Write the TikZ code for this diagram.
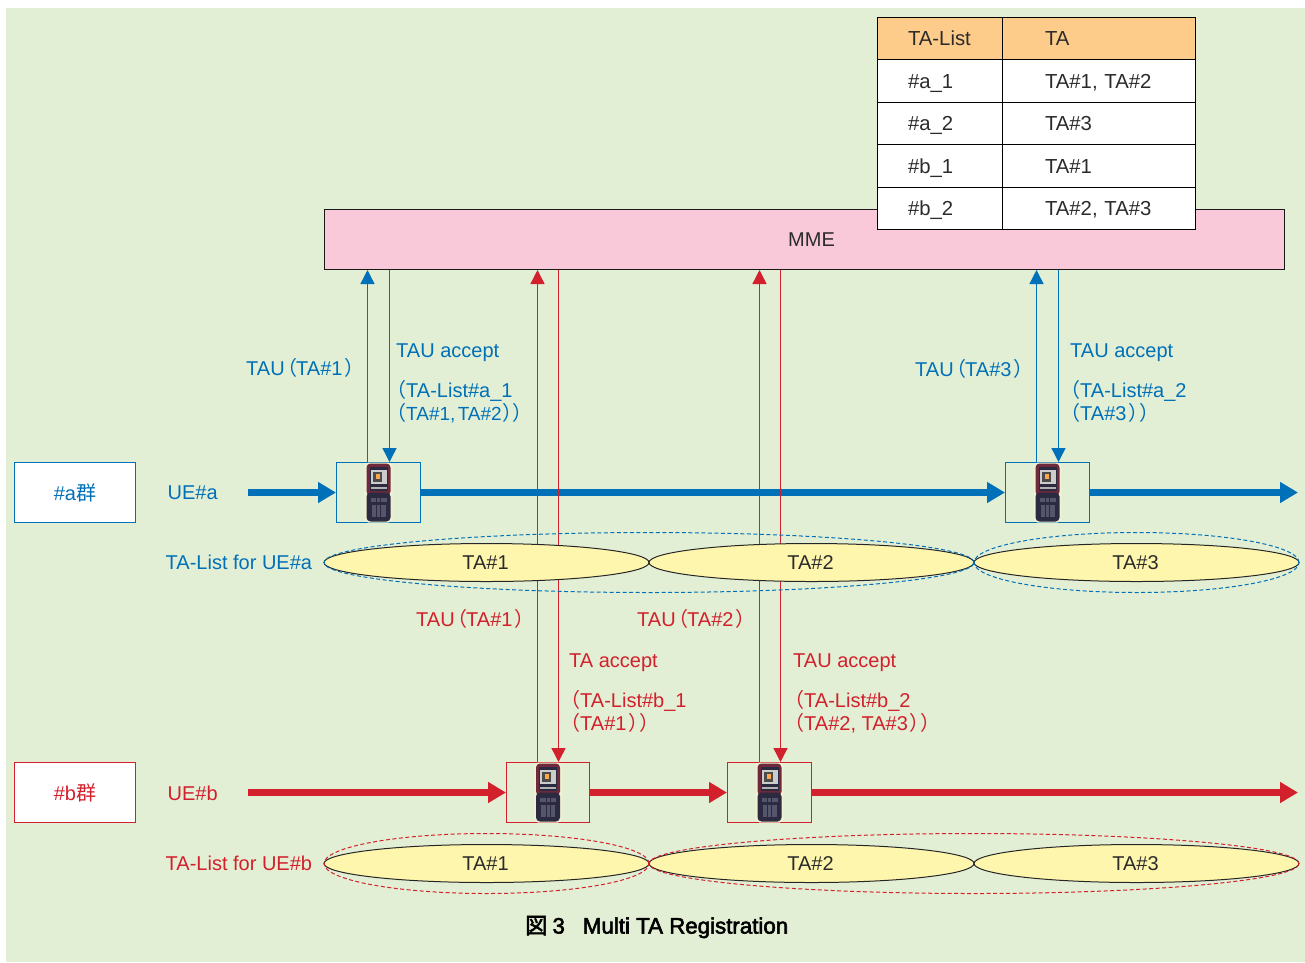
\documentclass[tikz,border=0pt]{standalone}
\usepackage{fontspec}
\setmainfont{Liberation Sans}
\newfontfamily\cjk{Noto Sans CJK JP}
\newfontfamily\capcjk[FakeBold=2.5]{Noto Sans CJK JP}
\newfontfamily\capfont[FakeBold=2.5]{Liberation Sans}
\usepackage{xcolor}
\usetikzlibrary{shapes.geometric, arrows.meta, positioning}
\definecolor{bggreen}{HTML}{E3EFD4}
\definecolor{mmepink}{HTML}{F9C9DA}
\definecolor{headorange}{HTML}{FDCB8A}
\definecolor{tayellow}{HTML}{FFF6AE}
\definecolor{ueblue}{HTML}{0070B9}
\definecolor{uered}{HTML}{D2202C}
\definecolor{inkgrey}{HTML}{2B2B2B}
\definecolor{phonebody}{HTML}{2C2A40}
\definecolor{phonetop}{HTML}{6E2A3C}
\definecolor{phonekey}{HTML}{55566C}
\definecolor{phonehalo}{HTML}{EFF2D2}
\newcommand{\zl}{{\cjk （}}
\newcommand{\zr}{{\cjk ）}}
\newcommand{\tauof}[1]{TAU\hspace{-7pt}\zl\hspace{-1.5pt}#1\hspace{1.5pt}\zr}
\tikzstyle{tacell}   = [rectangle, draw=black, line width=1pt, fill=white, outer sep=0pt,
                        inner ysep=0pt, minimum height=42.5pt, align=left, text=inkgrey,
                        text height=14.5pt, text depth=0pt,
                        font=\fontsize{20.3}{24}\selectfont]
\tikzstyle{listcol}  = [tacell, inner xsep=31pt, text width=63pt]
\tikzstyle{tacol}    = [tacell, inner xsep=43pt, text width=107pt]
\tikzstyle{group}    = [rectangle, fill=white, line width=1pt, minimum width=121pt,
                        minimum height=60pt, font=\fontsize{20}{24}\selectfont]
\tikzstyle{uebox}    = [rectangle, line width=1pt, minimum height=60pt]
\tikzstyle{area}     = [ellipse, draw=black!85, line width=1pt, fill=tayellow, inner sep=0pt,
                        minimum width=325pt, minimum height=38pt, text=inkgrey,
                        font=\fontsize{20}{24}\selectfont]
\tikzstyle{tarange}  = [ellipse, line width=1pt, dash pattern=on 4pt off 2.5pt, inner sep=0pt,
                        minimum height=60pt]
\tikzstyle{lbl}      = [anchor=west, inner sep=0pt, align=left, font=\fontsize{20}{24}\selectfont]
\tikzstyle{flow}     = [line width=7pt, -{Triangle[length=18pt,width=20pt]}]
\tikzstyle{msg}      = [line width=1.4pt, -{Triangle[length=14pt,width=14pt]}]
\tikzset{
  handset/.pic={
    \fill[phonehalo, rounded corners=4pt] (-14,-30) rectangle (14,30);
    \fill[phonetop, rounded corners=4pt] (-12,-29) rectangle (12,3);
    \fill[phonebody, rounded corners=4pt] (-12,0) rectangle (12,29);
    \fill[phonebody] (-9,-26) rectangle (9,-2);
    \fill[white!80!black] (-8,-23) rectangle (8,-9);
    \fill[black!70] (-6,-21) rectangle (3,-11);
    \fill[orange!70!white] (-3,-19) rectangle (1,-14);
    \fill[white!70!black] (-8,-6) rectangle (8,-4);
    \fill[phonekey] (-8,5) rectangle (8,9);
    \fill[phonekey] (-7,12) rectangle (7,24);
    \fill[phonebody] (-2.5,5) rectangle (-1.5,24);
    \fill[phonebody] (1.5,5) rectangle (2.5,24);
  }
}

\begin{document}
\begin{tikzpicture}[x=1pt, y=-1pt, node distance=0pt]
  \useasboundingbox (0,0) rectangle (1305,962);
  \fill[bggreen] (6,8) rectangle (1305,962);

  \node[rectangle, draw=black!90, line width=1pt, fill=mmepink, minimum width=960pt,
        minimum height=60pt, text=inkgrey, font=\fontsize{20}{24}\selectfont]
        (mme) at (804.5,239.5) {\hspace*{14pt}MME};

  % table
  \node[listcol, fill=headorange] (h1) at (939.5,38.5) {TA-List};
  \node[tacol, fill=headorange, right=of h1] (h2) {TA};
  \node[listcol, below=of h1] (a1) {\#a\_1};
  \node[tacol, below=of h2]   (a1ta) {TA\#1, TA\#2};
  \node[listcol, below=of a1] (a2) {\#a\_2};
  \node[tacol, below=of a1ta] (a2ta) {TA\#3};
  \node[listcol, below=of a2] (b1) {\#b\_1};
  \node[tacol, below=of a2ta] (b1ta) {TA\#1};
  \node[listcol, below=of b1] (b2) {\#b\_2};
  \node[tacol, below=of b1ta] (b2ta) {TA\#2, TA\#3};

  % groups and terminals
  \node[group, draw=ueblue, text=ueblue] (groupa) at (75,492.5) {\#a{\cjk 群}};
  \node[group, draw=uered, text=uered]   (groupb) at (75,792.5) {\#b{\cjk 群}};
  \node[uebox, draw=ueblue, minimum width=84pt] (ue1) at (378.5,492.5) {};
  \node[uebox, draw=ueblue, minimum width=84pt] (ue2) at (1047.5,492.5) {};
  \node[uebox, draw=uered, minimum width=83pt]  (ue3) at (548,792.5) {};
  \node[uebox, draw=uered, minimum width=84pt]  (ue4) at (769.5,792.5) {};
  \pic at (ue1.center) {handset};
  \pic at (ue2.center) {handset};
  \pic at (ue3.center) {handset};
  \pic at (ue4.center) {handset};

  \coordinate (starta) at (248,492.5);
  \coordinate (enda)   at (1298,492.5);
  \coordinate (startb) at (248,792.5);
  \coordinate (endb)   at (1298,792.5);
  \draw[flow, ueblue] (starta)   -- (ue1.west);
  \draw[flow, ueblue] (ue1.east) -- (ue2.west);
  \draw[flow, ueblue] (ue2.east) -- (enda);
  \draw[flow, uered]  (startb)   -- (ue3.west);
  \draw[flow, uered]  (ue3.east) -- (ue4.west);
  \draw[flow, uered]  (ue4.east) -- (endb);

  % messages
  \draw[msg, ueblue] ([xshift=-11]ue1.north) -- ([xshift=-11]ue1.north |- mme.south);
  \draw[msg, ueblue] ([xshift=11]ue1.north |- mme.south) -- ([xshift=11]ue1.north);
  \draw[msg, ueblue] ([xshift=-11]ue2.north) -- ([xshift=-11]ue2.north |- mme.south);
  \draw[msg, ueblue] ([xshift=11]ue2.north |- mme.south) -- ([xshift=11]ue2.north);
  \draw[msg, uered]  ([xshift=-10.5]ue3.north) -- ([xshift=-10.5]ue3.north |- mme.south);
  \draw[msg, uered]  ([xshift=10.5]ue3.north |- mme.south) -- ([xshift=10.5]ue3.north);
  \draw[msg, uered]  ([xshift=-10]ue4.north) -- ([xshift=-10]ue4.north |- mme.south);
  \draw[msg, uered]  ([xshift=11]ue4.north |- mme.south) -- ([xshift=11]ue4.north);

  % tracking areas
  \node[area] (ta1a) at (486.5,562.5) {\hspace*{-2pt}TA\#1};
  \node[area] (ta2a) at (811.5,562.5) {\hspace*{-2pt}TA\#2};
  \node[area] (ta3a) at (1136.5,562.5) {\hspace*{-2pt}TA\#3};
  \node[area] (ta1b) at (486.5,863.5) {\hspace*{-2pt}TA\#1};
  \node[area] (ta2b) at (811.5,863.5) {\hspace*{-2pt}TA\#2};
  \node[area] (ta3b) at (1136.5,863.5) {\hspace*{-2pt}TA\#3};
  \node[tarange, draw=ueblue, minimum width=650pt] (lista1) at (649,562.5) {};
  \node[tarange, draw=ueblue, minimum width=325pt] (lista2) at (1136.5,562.5) {};
  \node[tarange, draw=uered, minimum width=325pt]  (listb1) at (486.5,863.5) {};
  \node[tarange, draw=uered, minimum width=650pt]  (listb2) at (974,863.5) {};

  % labels
  \node[lbl, text=ueblue] (uea)   at (167.5,493) {UE\#a};
  \node[lbl, text=ueblue] (lista) at (165.5,562.5) {TA-List for UE\#a};
  \node[lbl, text=uered]  (ueb)   at (167.5,793) {UE\#b};
  \node[lbl, text=uered]  (listb) at (165.5,863) {TA-List for UE\#b};

  \node[lbl, text=ueblue] (tau1)  at (246,368) {\tauof{TA\#1}};
  \node[lbl, text=ueblue] (acc1)  at (396,353) {TAU accept};
  \node[lbl, text=ueblue] (tal1)  at (386,401.5) {\zl TA-List\#a\_1\\[-0.6pt]\zl{\fontsize{19}{24}\selectfont TA\#1,\hspace{-3pt} TA\#2}\hspace{1pt}\zr\hspace{-10pt}\zr};
  \node[lbl, text=ueblue] (tau3)  at (915,369) {\tauof{TA\#3}};
  \node[lbl, text=ueblue] (acc3)  at (1070,353) {TAU accept};
  \node[lbl, text=ueblue] (tal3)  at (1060,401.5) {\zl TA-List\#a\_2\\[-0.6pt]\zl TA\#3\hspace{2pt}\zr\hspace{-9pt}\zr};
  \node[lbl, text=uered]  (tau1b) at (416,619) {\tauof{TA\#1}};
  \node[lbl, text=uered]  (tau2b) at (637,619) {\tauof{TA\#2}};
  \node[lbl, text=uered]  (acc1b) at (569,663) {TA accept};
  \node[lbl, text=uered]  (tal1b) at (560,711.5) {\zl TA-List\#b\_1\\[-0.6pt]\zl TA\#1\hspace{2pt}\zr\hspace{-9pt}\zr};
  \node[lbl, text=uered]  (acc2b) at (793,663) {TAU accept};
  \node[lbl, text=uered]  (tal2b) at (784,711.5) {\zl TA-List\#b\_2\\[-0.6pt]\zl TA\#2, TA\#3\hspace{1.5pt}\zr\hspace{-9pt}\zr};

  \node[lbl, text=black, font=\fontsize{22.3}{24}\capfont] (caption) at (525,927)
        {{\capcjk 図}\hspace{5pt}3\hspace{18pt}Multi TA Registration};
\end{tikzpicture}
\end{document}
